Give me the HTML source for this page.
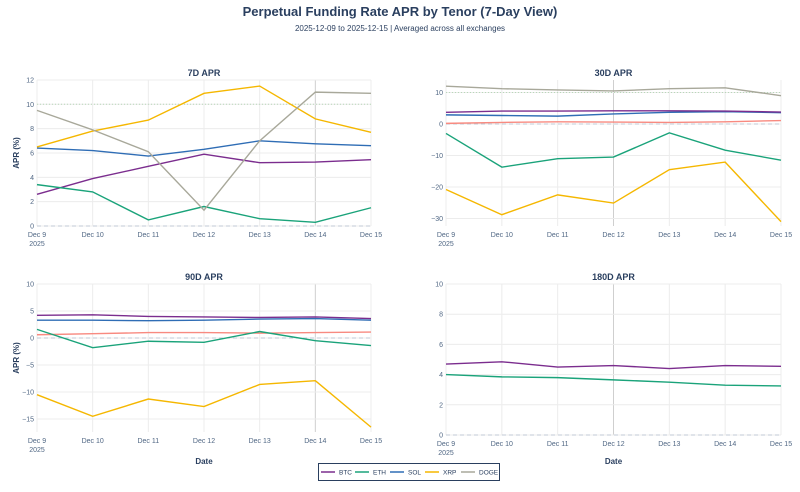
<!DOCTYPE html>
<html><head><meta charset="utf-8"><style>
body{margin:0;background:#fff;width:800px;height:487px;overflow:hidden}
svg text{font-family:"Liberation Sans",sans-serif}
</style></head><body>
<svg id="s" width="800" height="487" xmlns="http://www.w3.org/2000/svg"></svg>
<script>
const S=document.getElementById('s');let h='';
const C={BTC:'#7b2d8e',ETH:'#1aa37a',SOL:'#2f6db5',XRP:'#f5b700',DOGE:'#a8a89a',REF:'#f88a80'};
h+=`<text x="400" y="16" text-anchor="middle" font-size="13" font-weight="bold" fill="#2a3f5f">Perpetual Funding Rate APR by Tenor (7-Day View)</text>`;
h+=`<text x="400" y="31" text-anchor="middle" font-size="8" fill="#2a3f5f">2025-12-09 to 2025-12-15 | Averaged across all exchanges</text>`;
const days=['Dec 9','Dec 10','Dec 11','Dec 12','Dec 13','Dec 14','Dec 15'];
function panel(o){
 const {x0,x1,top,bot,y0,k,ticks,title,series,hl,ylab,xlab,ten}=o;
 const X=i=>x0+(x1-x0)*i/6, Y=v=>y0-k*v;
 h+=`<text x="${(x0+x1)/2}" y="${top-4}" text-anchor="middle" font-size="9" font-weight="bold" fill="#2a3f5f">${title}</text>`;
 for(let i=0;i<7;i++){h+=`<line x1="${X(i)}" x2="${X(i)}" y1="${top}" y2="${bot}" stroke="${i==hl?'#cfcfcf':'#ececec'}" stroke-width="1"/>`;
  h+=`<text x="${X(i)}" y="${bot+11}" text-anchor="middle" font-size="7" fill="#506784">${days[i]}</text>`;}
 h+=`<text x="${X(0)}" y="${bot+20}" text-anchor="middle" font-size="7" fill="#506784">2025</text>`;
 ticks.forEach(t=>{h+=`<line x1="${x0}" x2="${x1}" y1="${Y(t)}" y2="${Y(t)}" stroke="#ececec"/>`;
  h+=`<text x="${x0-3}" y="${Y(t)+2.5}" text-anchor="end" font-size="7" fill="#506784">${t<0?'−'+(-t):t}</text>`;});
 h+=`<line x1="${x0}" x2="${x1}" y1="${Y(0)}" y2="${Y(0)}" stroke="#c0c8d4" stroke-dasharray="4,3"/>`;
 if(ten)h+=`<line x1="${x0}" x2="${x1}" y1="${Y(10)}" y2="${Y(10)}" stroke="#b8d8b8" stroke-dasharray="1,2"/>`;
 for(const [n,d] of series){h+=`<polyline fill="none" stroke="${C[n]}" stroke-width="1.4" points="${d.map((v,i)=>X(i)+','+Y(v)).join(' ')}"/>`;}
 if(ylab)h+=`<text transform="translate(19,${(top+bot)/2}) rotate(-90)" text-anchor="middle" font-size="8" font-weight="bold" fill="#2a3f5f">APR (%)</text>`;
 if(xlab)h+=`<text x="${(x0+x1)/2}" y="464" text-anchor="middle" font-size="8" font-weight="bold" font-family="Liberation Serif,serif" fill="#2a3f5f">Date</text>`;
}
panel({x0:37,x1:371,top:80,bot:226,y0:226,k:12.17,ticks:[0,2,4,6,8,10,12],title:'7D APR',hl:5,ylab:1,ten:1,series:[
['BTC',[2.6,3.9,4.9,5.9,5.2,5.25,5.45]],['ETH',[3.4,2.8,0.5,1.6,0.6,0.3,1.5]],['SOL',[6.4,6.2,5.75,6.3,7.0,6.75,6.6]],
['XRP',[6.5,7.8,8.7,10.9,11.5,8.8,7.7]],['DOGE',[9.5,7.9,6.1,1.3,7.0,11.0,10.9]]]});
panel({x0:446,x1:781,top:80,bot:226,y0:124,k:3.15,ticks:[10,0,-10,-20,-30],title:'30D APR',hl:3,ten:1,series:[
['REF',[0.2,0.5,0.7,0.6,0.5,0.7,1.1]],['ETH',[-3,-13.7,-11,-10.5,-2.8,-8.3,-11.5]],['XRP',[-20.8,-28.8,-22.5,-25.1,-14.5,-12.1,-31]],
['SOL',[2.9,2.7,2.5,3.2,3.7,3.9,3.6]],['BTC',[3.7,4.1,4.1,4.2,4.2,4.1,3.8]],['DOGE',[12,11.2,10.8,10.5,11.2,11.5,9]]]});
panel({x0:37,x1:371,top:284,bot:432,y0:338,k:5.4,ticks:[10,5,0,-5,-10,-15],title:'90D APR',hl:5,ylab:1,xlab:1,series:[
['REF',[0.6,0.8,1.0,1.0,0.9,1.0,1.1]],['ETH',[1.6,-1.8,-0.6,-0.8,1.2,-0.5,-1.4]],['XRP',[-10.5,-14.5,-11.3,-12.7,-8.6,-7.9,-16.5]],
['SOL',[3.3,3.3,3.2,3.3,3.5,3.6,3.3]],['BTC',[4.2,4.3,4.0,3.9,3.8,3.9,3.6]]]});
panel({x0:446,x1:781,top:284,bot:435,y0:435,k:15.1,ticks:[0,2,4,6,8,10],title:'180D APR',hl:3,xlab:1,series:[
['ETH',[4.0,3.85,3.8,3.65,3.5,3.3,3.25]],['BTC',[4.7,4.85,4.5,4.6,4.4,4.6,4.55]]]});
h+=`<rect x="318.5" y="463.5" width="181" height="17" fill="#fff" stroke="#2a3f5f" stroke-width="1"/>`;
[['BTC',321],['ETH',355],['SOL',390],['XRP',425],['DOGE',461]].forEach(([n,x])=>{
 h+=`<line x1="${x}" x2="${x+14}" y1="472" y2="472" stroke="${C[n]}" stroke-width="1.5"/><text x="${x+18}" y="474.5" font-size="6.5" fill="#2a3f5f">${n}</text>`;});
S.innerHTML=h;
</script>
</body></html>
